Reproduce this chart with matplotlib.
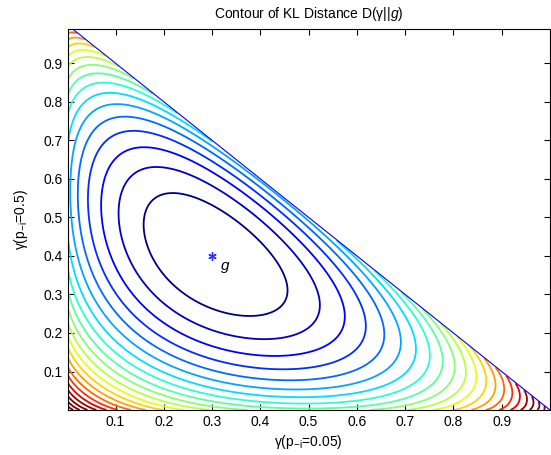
import numpy as np
import matplotlib
matplotlib.use('Agg')
import matplotlib.pyplot as plt
from matplotlib.colors import Normalize

plt.rcParams['font.family'] = ['Liberation Sans', 'DejaVu Sans']
plt.rcParams['mathtext.fontset'] = 'custom'
plt.rcParams['mathtext.rm'] = 'Liberation Sans'
plt.rcParams['mathtext.it'] = 'Liberation Sans:italic'

# reference distribution g = (g1, g2, g3)
g = [0.3, 0.4, 0.3]
level_step = 0.054
n_levels = 21
color_range = [0.054, 1.0]
ticks = [0.1, 0.2, 0.3, 0.4, 0.5, 0.6, 0.7, 0.8, 0.9]
tick_labels = ['0.1', '0.2', '0.3', '0.4', '0.5', '0.6', '0.7', '0.8', '0.9']

x = np.linspace(0.0005, 0.9995, 500)
y = np.linspace(0.0005, 0.9995, 500)
X, Y = np.meshgrid(x, y)
Z3 = 1 - X - Y
Z3s = np.where(Z3 > 0, Z3, np.nan)
D = X * np.log(X / g[0]) + Y * np.log(Y / g[1]) + Z3s * np.log(Z3s / g[2])
D = np.ma.masked_invalid(D)

levels = level_step * np.arange(1, n_levels + 1)

fig = plt.figure(figsize=(5.51, 4.55), dpi=100)
ax = fig.add_axes([0.1229, 0.0996, 0.8744, 0.836])
ax.contour(X, Y, D, levels=levels, cmap='jet', linewidths=1.3,
           norm=Normalize(color_range[0], color_range[1], clip=True))
ax.plot([0, 1], [1, 0], color='blue', linewidth=0.8)
ax.plot(g[0], g[1], marker=(6, 2, 0), color='#3333ff', markersize=6, mew=1.0)
ax.text(g[0] + 0.018, g[1] - 0.027, 'g', fontsize=11, style='italic', va='center', ha='left')

ax.set_xlim(0.001, 0.999)
ax.set_ylim(0.001, 0.988)
ax.set_xticks(ticks)
ax.set_xticklabels(tick_labels)
ax.set_yticks(ticks)
ax.set_yticklabels(tick_labels)
ax.tick_params(direction='in', top=True, right=True, length=4, labelsize=10)

ax.set_title('Contour of KL Distance D(γ||$g$)', fontsize=10, pad=8)
ax.set_xlabel('γ(p$_{-\\mathrm{i}}$=0.05)', fontsize=10, labelpad=3)
ax.set_ylabel('γ(p$_{-\\mathrm{i}}$=0.5)', fontsize=10, labelpad=10)

fig.savefig('out.png', dpi=100)
